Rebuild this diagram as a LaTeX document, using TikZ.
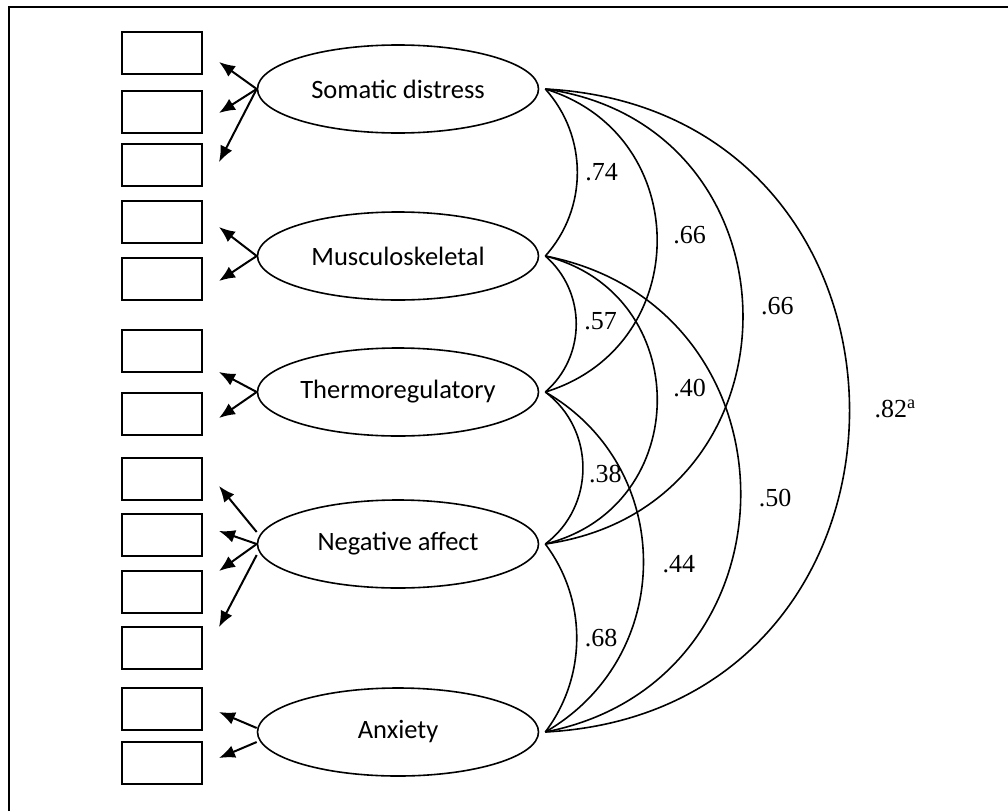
\documentclass[tikz,border=0pt]{standalone}
\usepackage{fontspec}
\setmainfont{Liberation Serif}
\newfontfamily\calib{Carlito}
\usetikzlibrary{shapes.geometric,arrows.meta}

\begin{document}
\begin{tikzpicture}[x=1pt, y=-1pt,
    factor/.style={ellipse, draw, line width=1.6pt, minimum width=281pt, minimum height=88pt, inner sep=0pt, font=\calib\fontsize{26.5}{30}\selectfont},
    item/.style={draw, line width=1.9pt, minimum width=80pt, minimum height=42pt, inner sep=0pt},
    load/.style={-{Latex[length=16pt,width=13pt]}, line width=2pt},
    corr/.style={line width=1.6pt},
    coef/.style={midway, right, font=\fontsize{26}{30}\selectfont}]
  \useasboundingbox (0,0) rectangle (1008,811);
  \draw[line width=1.8pt] (9,811) -- (9,7) -- (1008,7);

  \foreach \y [count=\i] in {53,112,165,222,279,351,414,479,535,592,648,709,763}
    \node[item] (b\i) at (162,\y) {};
  \foreach \y [count=\i] in {62,113,162,227,281,372,418,486,531,571,627,712,758}
    \coordinate (t\i) at (219,\y);

  \node[factor] (som) at (398,89) {Somatic distress};
  \node[factor] (mus) at (398,256) {Musculoskeletal};
  \node[factor] (the) at (398,392) {Thermoregulatory};
  \node[factor] (neg) at (398,544) {Negative affect};
  \node[factor] (anx) at (398,732) {Anxiety};

  \foreach \f/\t in {som/t1,som/t2,som/t3,mus/t4,mus/t5,the/t6,the/t7,neg/t9,neg/t10}
    \draw[load] (\f.west) -- (\t);
  \draw[load] ([yshift=12pt]neg.west) -- (t8);
  \draw[load] ([yshift=-11pt]neg.west) -- (t11);
  \draw[load] ([yshift=4pt]anx.west) -- (t12);
  \draw[load] ([yshift=-10pt]anx.west) -- (t13);

  \foreach \n in {som,mus,the,neg,anx}
    \coordinate (\n r) at ([xshift=6pt]\n.east);
  \foreach \a/\b/\ang/\lo/\v/\dx/\dy in {som/mus/42/.98/.74/4/0, som/the/73/1.32/.66/12/5, som/neg/82/1.5/.66/14/10,
      som/anx/87/1.62/{.82\textsuperscript{a}}/21/2, mus/the/49/1.03/.57/4/3, mus/neg/76/1.37/.40/12/12,
      mus/anx/79/1.43/.50/14/-4, the/neg/53/1.06/.38/2/-6, the/anx/60/1.14/.44/15/-2, neg/anx/37/.95/.68/4/0}
    \draw[corr] (\a r) to[bend left=\ang, looseness=\lo] node[coef, xshift=\dx pt, yshift=\dy pt] {\v} (\b r);
\end{tikzpicture}
\end{document}
